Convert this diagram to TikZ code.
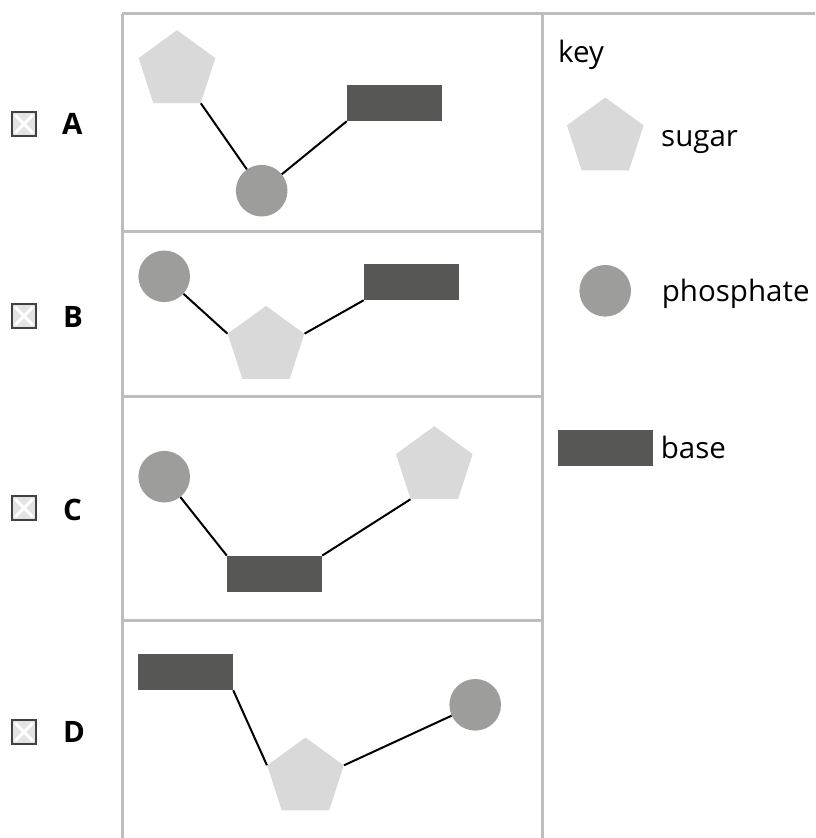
\documentclass[tikz,border=0pt]{standalone}
\usepackage{fontspec}
\setmainfont{Open Sans}
\usetikzlibrary{shapes.geometric}
\definecolor{pentcol}{HTML}{D9D9D9}
\definecolor{circcol}{HTML}{9D9D9C}
\definecolor{rectcol}{HTML}{575756}
\definecolor{gridcol}{HTML}{BDBDBD}
\definecolor{cbborder}{HTML}{404040}
\definecolor{cbfill}{HTML}{E3E3E3}
\tikzset{
  sugarshape/.style={regular polygon, regular polygon sides=5, fill=pentcol, draw=none, inner sep=0pt, minimum size=80.6pt},
  phosshape/.style={circle, fill=circcol, draw=none, inner sep=0pt, minimum size=51.6pt},
  baseshape/.style={rectangle, fill=rectcol, draw=none, inner sep=0pt, minimum width=95pt, minimum height=36pt},
  bond/.style={draw=black, line width=2pt},
  gridline/.style={draw=gridcol, line width=3pt},
  txt/.style={anchor=base west, inner sep=0pt, font=\fontsize{29.5}{34}\selectfont},
  lbl/.style={anchor=base west, inner sep=0pt, font=\fontsize{29.5}{34}\selectfont\bfseries},
  checkbox/.style={rectangle, draw=cbborder, fill=cbfill, line width=1.5pt, minimum size=24pt, inner sep=0pt,
    path picture={
      \draw[white, line width=3pt]
        ([shift={(3,3)}]path picture bounding box.north west) -- ([shift={(-3,-3)}]path picture bounding box.south east)
        ([shift={(-3,3)}]path picture bounding box.north east) -- ([shift={(3,-3)}]path picture bounding box.south west);
    }},
}
\begin{document}
\begin{tikzpicture}[x=1pt, y=-1pt]
\useasboundingbox (0,0) rectangle (815,838);

% grid
\draw[gridline] (122,13.5) -- (815,13.5);
\draw[gridline] (122,13.5) -- (122,838);
\draw[gridline] (542,13.5) -- (542,838);
\draw[gridline] (122,231) -- (542,231);
\draw[gridline] (122,396.7) -- (542,396.7);
\draw[gridline] (122,620) -- (542,620);

% checkboxes and labels
\node[checkbox] (cbA) at (24,124) {};
\node[checkbox] (cbB) at (24,316) {};
\node[checkbox] (cbC) at (24,508) {};
\node[checkbox] (cbD) at (24,732) {};
\node[lbl] (lA) at (62,134) {A};
\node[lbl] (lB) at (63,327) {B};
\node[lbl] (lC) at (63,520) {C};
\node[lbl] (lD) at (63,742.7) {D};

% A
\node[sugarshape] (pA) at (177,70.5) {};
\node[phosshape] (cA) at (261.7,190.7) {};
\node[baseshape] (rA) at (394.5,103) {};
\draw[bond] (pA.corner 4) -- (cA);
\draw[bond] (cA) -- (rA.south west);

% B
\node[phosshape] (cB) at (164.2,276.3) {};
\node[sugarshape] (pB) at (266,346.2) {};
\node[baseshape] (rB) at (411.5,282) {};
\draw[bond] (cB) -- (pB.corner 2);
\draw[bond] (pB.corner 5) -- (rB.south west);

% C
\node[phosshape] (cC) at (164.2,476.7) {};
\node[baseshape] (rC) at (274.5,573.8) {};
\node[sugarshape] (pC) at (434.3,466.5) {};
\draw[bond] (cC) -- (rC.north west);
\draw[bond] (rC.north east) -- (pC.corner 3);

% D
\node[baseshape] (rD) at (185.5,672) {};
\node[sugarshape] (pD) at (305.5,777.8) {};
\node[phosshape] (cD) at (475.2,704.8) {};
\draw[bond] (rD.south east) -- (pD.corner 2);
\draw[bond] (pD.corner 5) -- (cD);

% key
\node[txt] (key) at (558,62) {key};
\node[sugarshape] (kp) at (605.3,137.8) {};
\node[txt] (ks) at (661,146) {sugar};
\node[phosshape] (kc) at (605.2,290.8) {};
\node[txt] (kph) at (661.7,301.7) {phosphate};
\node[baseshape] (kr) at (605.2,448) {};
\node[txt] (kb) at (660.7,458.3) {base};
\end{tikzpicture}
\end{document}
